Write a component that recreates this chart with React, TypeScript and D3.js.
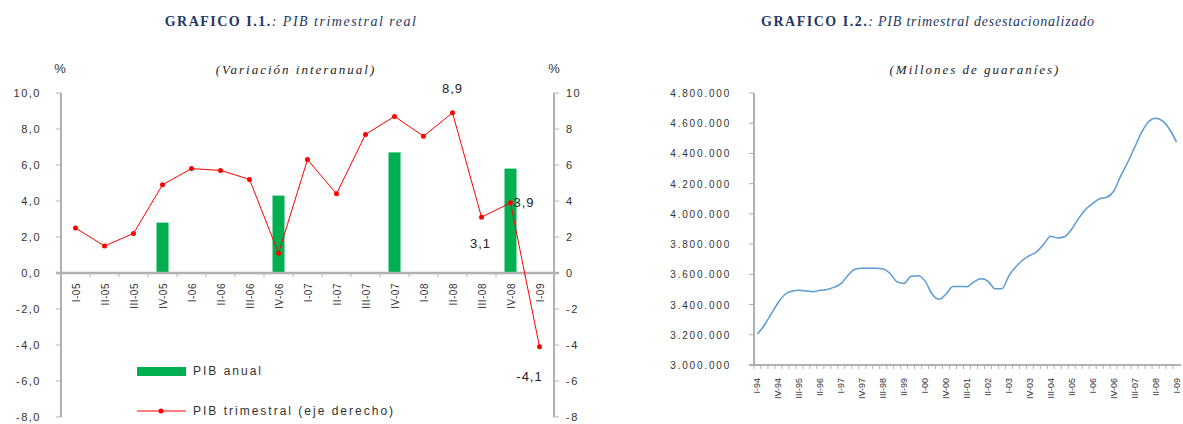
import React from "react";
import * as d3 from "d3";

// ---------- Chart I.1 data ----------
const quartersL = ["I-05","II-05","III-05","IV-05","I-06","II-06","III-06","IV-06","I-07","II-07","III-07","IV-07","I-08","II-08","III-08","IV-08","I-09"];
const pibTrimestral = [2.5,1.5,2.2,4.9,5.8,5.7,5.2,1.1,6.3,4.4,7.7,8.7,7.6,8.9,3.1,3.9,-4.1];
const pibAnualCats = ["IV-05","IV-06","IV-07","IV-08"];
const pibAnual = [2.8,4.3,6.7,5.8];
const leftTicks = [10,8,6,4,2,0,-2,-4,-6,-8];
const labeledPoints = [
  { cat: "II-08", text: "8,9" },
  { cat: "III-08", text: "3,1" },
  { cat: "IV-08", text: "3,9" },
  { cat: "I-09", text: "-4,1" },
];

// ---------- Chart I.2 data ----------
const quartersR = [
  "I-94","II-94","III-94","IV-94","I-95","II-95","III-95","IV-95","I-96","II-96","III-96","IV-96",
  "I-97","II-97","III-97","IV-97","I-98","II-98","III-98","IV-98","I-99","II-99","III-99","IV-99",
  "I-00","II-00","III-00","IV-00","I-01","II-01","III-01","IV-01","I-02","II-02","III-02","IV-02",
  "I-03","II-03","III-03","IV-03","I-04","II-04","III-04","IV-04","I-05","II-05","III-05","IV-05",
  "I-06","II-06","III-06","IV-06","I-07","II-07","III-07","IV-07","I-08","II-08","III-08","IV-08","I-09"
];
const pibDesest = [
  3205,3265,3340,3415,3470,3490,3495,3490,3485,3495,3500,3515,
  3540,3595,3635,3640,3640,3640,3635,3605,3550,3540,3588,3590,
  3555,3470,3435,3470,3520,3520,3518,3550,3570,3555,3505,3505,
  3590,3650,3695,3725,3750,3800,3852,3840,3850,3900,3970,4030,
  4070,4100,4110,4150,4250,4340,4440,4540,4610,4633,4615,4560,4475
].map((v) => v * 1000);
const rightTicks = [3000000,3200000,3400000,3600000,3800000,4000000,4200000,4400000,4600000,4800000];

const fmtDot = (v: number) => d3.format(",")(v).replace(/,/g, ".");
const fmtComma1 = (v: number) => v.toFixed(1).replace(".", ",");

const AXIS = "#b0b0b0";
const TXT = "#333333";
const TITLE = "#1f3864";
const SANS = "'Liberation Sans', Arial, sans-serif";
const SERIF = "'Liberation Serif', 'Times New Roman', serif";

export default function App() {
  // Left chart scales
  const xL = d3.scaleBand<string>().domain(quartersL).range([61, 554]);
  const yL = d3.scaleLinear().domain([-8, 10]).range([417, 93]);
  const cx = (c: string) => (xL(c) as number) + xL.bandwidth() / 2;
  const lineL = d3
    .line<number>()
    .x((_, i) => cx(quartersL[i]))
    .y((d) => yL(d));
  const barW = 12;

  // Right chart scales
  const xR = d3.scaleBand<string>().domain(quartersR).range([754, 1180]);
  const yR = d3.scaleLinear().domain([3000000, 4800000]).range([365, 93]);
  const cxR = (c: string) => (xR(c) as number) + xR.bandwidth() / 2;
  const lineR = d3
    .line<number>()
    .x((_, i) => cxR(quartersR[i]))
    .y((d) => yR(d))
    .curve(d3.curveMonotoneX);

  const labelPos: Record<string, { dx: number; dy: number; anchor: string }> = {
    "8,9": { dx: 0, dy: -20, anchor: "middle" },
    "3,1": { dx: -1, dy: 31, anchor: "middle" },
    "3,9": { dx: 3, dy: 4, anchor: "start" },
    "-4,1": { dx: -10, dy: 34, anchor: "middle" },
  };

  return (
    <svg width={1183} height={424} style={{ display: "block", position: "absolute", left: 0, top: 0, background: "#fff" }}>
      {/* ============ Chart I.1 ============ */}
      <text x={291} y={26} textAnchor="middle" fontFamily={SERIF} fontSize={14} fill={TITLE}>
        <tspan fontWeight="bold" letterSpacing={1.5}>GRAFICO I.1.</tspan>
        <tspan fontStyle="italic" letterSpacing={1.5}>: PIB trimestral real</tspan>
      </text>
      <text x={296} y={74} textAnchor="middle" fontFamily={SERIF} fontStyle="italic" fontSize={13} letterSpacing={2} fill="#222">
        (Variación interanual)
      </text>
      <text x={60} y={73} textAnchor="middle" fontFamily={SANS} fontSize={13} fill={TXT}>%</text>
      <text x={554} y={73} textAnchor="middle" fontFamily={SANS} fontSize={13} fill={TXT}>%</text>

      {/* axes */}
      <line x1={61} x2={61} y1={93} y2={417} stroke={AXIS} strokeWidth={2} />
      <line x1={554} x2={554} y1={93} y2={417} stroke={AXIS} strokeWidth={2} />
      {leftTicks.map((t) => (
        <g key={"lt" + t}>
          <line x1={56} x2={61} y1={yL(t)} y2={yL(t)} stroke={AXIS} />
          <text x={41} y={yL(t) + 4} textAnchor="end" fontFamily={SANS} fontSize={11} letterSpacing={1.5} fill={TXT}>
            {fmtComma1(t)}
          </text>
          <line x1={554} x2={559} y1={yL(t)} y2={yL(t)} stroke={AXIS} />
          <text x={566} y={yL(t) + 4} textAnchor="start" fontFamily={SANS} fontSize={11} letterSpacing={1.5} fill={TXT}>
            {String(t)}
          </text>
        </g>
      ))}

      {/* bars */}
      {pibAnualCats.map((c, i) => (
        <rect
          key={"b" + c}
          x={cx(c) - barW / 2}
          y={yL(pibAnual[i])}
          width={barW}
          height={yL(0) - yL(pibAnual[i])}
          fill="#00b050"
        />
      ))}

      {/* zero line + x ticks */}
      <line x1={56} x2={559} y1={yL(0)} y2={yL(0)} stroke={AXIS} strokeWidth={2.5} />
      {quartersL.map((c) => (
        <line key={"xt" + c} x1={xL(c) as number} x2={xL(c) as number} y1={yL(0)} y2={yL(0) + 4} stroke={AXIS} />
      ))}
      {quartersL.map((c) => (
        <text
          key={"xl" + c}
          transform={`translate(${cx(c) + 4},${yL(0) + 10}) rotate(-90)`}
          textAnchor="end"
          fontFamily={SANS}
          fontSize={10}
          letterSpacing={0.5}
          fill={TXT}
        >
          {c}
        </text>
      ))}

      {/* line */}
      <path d={lineL(pibTrimestral) as string} fill="none" stroke="#ff0000" strokeWidth={1} />
      {pibTrimestral.map((v, i) => (
        <circle key={"m" + i} cx={cx(quartersL[i])} cy={yL(v)} r={2.5} fill="#ff0000" />
      ))}
      {labeledPoints.map((p) => {
        const i = quartersL.indexOf(p.cat);
        const lp = labelPos[p.text];
        return (
          <text
            key={"lab" + p.text}
            x={cx(p.cat) + lp.dx}
            y={yL(pibTrimestral[i]) + lp.dy}
            textAnchor={lp.anchor}
            fontFamily={SANS}
            fontSize={13}
            letterSpacing={1}
            fill="#222"
          >
            {p.text}
          </text>
        );
      })}

      {/* legend */}
      <rect x={137} y={367} width={49} height={9} fill="#00b050" />
      <text x={193} y={375} fontFamily={SANS} fontSize={12} letterSpacing={2} fill={TXT}>PIB anual</text>
      <line x1={137} x2={186} y1={411} y2={411} stroke="#ff0000" strokeWidth={1} />
      <circle cx={161} cy={411} r={2.5} fill="#ff0000" />
      <text x={193} y={415} fontFamily={SANS} fontSize={12} letterSpacing={2} fill={TXT}>PIB trimestral (eje derecho)</text>

      {/* ============ Chart I.2 ============ */}
      <text x={928} y={26} textAnchor="middle" fontFamily={SERIF} fontSize={14} fill={TITLE}>
        <tspan fontWeight="bold" letterSpacing={1.5}>GRAFICO I.2.</tspan>
        <tspan fontStyle="italic" letterSpacing={0.8}>: PIB trimestral desestacionalizado</tspan>
      </text>
      <text x={975} y={74} textAnchor="middle" fontFamily={SERIF} fontStyle="italic" fontSize={13} letterSpacing={2} fill="#222">
        (Millones de guaraníes)
      </text>

      <line x1={754} x2={754} y1={93} y2={366} stroke={AXIS} strokeWidth={2} />
      {rightTicks.map((t) => (
        <g key={"rt" + t}>
          <line x1={749} x2={754} y1={yR(t)} y2={yR(t)} stroke={AXIS} />
          <text x={731} y={yR(t) + 4} textAnchor="end" fontFamily={SANS} fontSize={10} letterSpacing={1.8} fill={TXT}>
            {fmtDot(t)}
          </text>
        </g>
      ))}
      <line x1={749} x2={1181} y1={365} y2={365} stroke={AXIS} strokeWidth={2} />
      {quartersR.map((c) => (
        <line key={"rxt" + c} x1={xR(c) as number} x2={xR(c) as number} y1={365} y2={369} stroke={AXIS} />
      ))}
      {quartersR.map((c, i) =>
        i % 3 === 0 ? (
          <text
            key={"rxl" + c}
            transform={`translate(${cxR(c) + 3},${378}) rotate(-90)`}
            textAnchor="end"
            fontFamily={SANS}
            fontSize={9}
            fill={TXT}
          >
            {c}
          </text>
        ) : null
      )}
      <path d={lineR(pibDesest) as string} fill="none" stroke="#5b9bd5" strokeWidth={1.5} />
    </svg>
  );
}
